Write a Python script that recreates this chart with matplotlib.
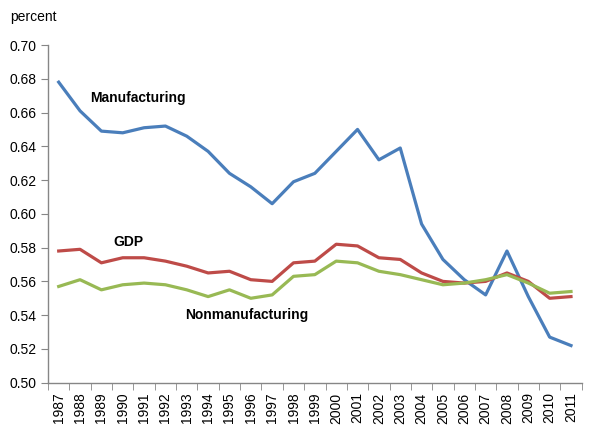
import matplotlib
matplotlib.use('Agg')
import matplotlib.pyplot as plt
import numpy as np

plt.rcParams['font.family'] = ['Liberation Sans', 'DejaVu Sans']

years = list(range(1987, 2012))
manufacturing = [0.678, 0.661, 0.649, 0.648, 0.651, 0.652, 0.646, 0.637, 0.624, 0.616,
                 0.606, 0.619, 0.624, 0.637, 0.650, 0.632, 0.639, 0.594, 0.573, 0.561,
                 0.552, 0.578, 0.551, 0.527, 0.522]
gdp = [0.578, 0.579, 0.571, 0.574, 0.574, 0.572, 0.569, 0.565, 0.566, 0.561,
       0.560, 0.571, 0.572, 0.582, 0.581, 0.574, 0.573, 0.565, 0.560, 0.559,
       0.560, 0.565, 0.560, 0.550, 0.551]
nonmanufacturing = [0.557, 0.561, 0.555, 0.558, 0.559, 0.558, 0.555, 0.551, 0.555, 0.550,
                    0.552, 0.563, 0.564, 0.572, 0.571, 0.566, 0.564, 0.561, 0.558, 0.559,
                    0.561, 0.564, 0.559, 0.553, 0.554]

x = np.arange(len(years))

fig = plt.figure(figsize=(5.98, 4.34), dpi=100)
ax = fig.add_axes([0.0803, 0.1182, 0.8924, 0.7781])

ax.plot(x, manufacturing, color='#4a7ebb', lw=2.3)
ax.plot(x, gdp, color='#be4b48', lw=2.3)
ax.plot(x, nonmanufacturing, color='#98b954', lw=2.3)

ax.set_xlim(-0.5, len(years) - 0.5)
ax.set_ylim(0.50, 0.70)
yt = np.arange(0.50, 0.701, 0.02)
ax.set_yticks(yt)
ax.set_yticklabels([f'{v:.2f}' for v in yt])

ax.set_xticks(x)
ax.set_xticklabels([str(y) for y in years], rotation=90)
ax.set_xticks(np.arange(-0.5, len(years)), minor=True)
ax.tick_params(axis='x', which='major', length=0, pad=7, labelsize=10)
ax.tick_params(axis='x', which='minor', length=5, color='#868686', direction='out')
ax.tick_params(axis='y', length=5, color='#868686', labelsize=10, pad=3)

for s in ['top', 'right']:
    ax.spines[s].set_visible(False)
for s in ['left', 'bottom']:
    ax.spines[s].set_color('#868686')
    ax.spines[s].set_linewidth(1)

ax.text(1.47, 0.6685, 'Manufacturing', fontsize=10, fontweight='bold', va='center', ha='left')
ax.text(2.54, 0.5833, 'GDP', fontsize=10, fontweight='bold', va='center', ha='left')
ax.text(5.92, 0.5398, 'Nonmanufacturing', fontsize=10, fontweight='bold', va='center', ha='left')

fig.text(10 / 598, 1 - 17 / 434, 'percent', fontsize=10, va='center', ha='left')

fig.savefig('out.png', dpi=100)
